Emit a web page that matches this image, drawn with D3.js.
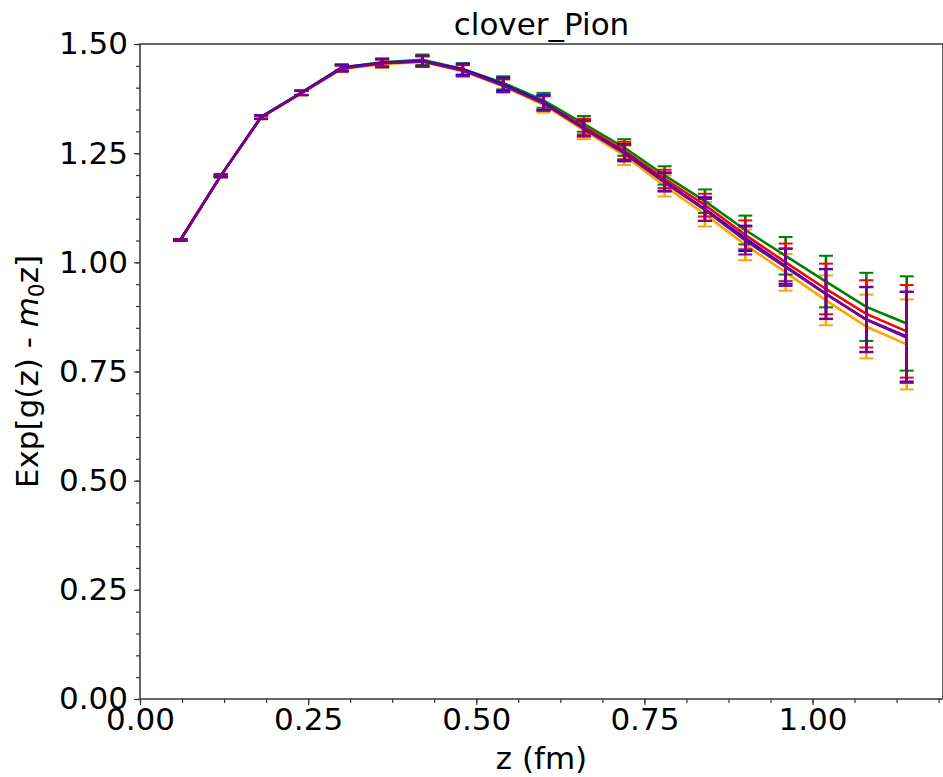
<!DOCTYPE html>
<html>
<head>
<meta charset="utf-8">
<script src="https://cdn.jsdelivr.net/npm/d3@7"></script>
<style>
  html, body { margin: 0; padding: 0; background: #fff; }
  svg { display: block; font-family: "DejaVu Sans", sans-serif; }
</style>
</head>
<body>
<svg id="chart" width="943" height="777"></svg>
<script>
// z positions (fm)
var zVals = [0.06, 0.12, 0.18, 0.24, 0.30, 0.36, 0.42, 0.48, 0.54, 0.60,
             0.66, 0.72, 0.78, 0.84, 0.90, 0.96, 1.02, 1.08, 1.14];

var orangeVals = [1.051, 1.198, 1.332, 1.387, 1.443, 1.454, 1.459, 1.438, 1.403, 1.361,
                  1.302, 1.245, 1.175, 1.110, 1.040, 0.977, 0.913, 0.853, 0.812];
var orangeErr  = [0.002, 0.003, 0.004, 0.005, 0.007, 0.009, 0.012, 0.013, 0.015, 0.018,
                  0.020, 0.022, 0.024, 0.028, 0.035, 0.042, 0.057, 0.073, 0.103];

var greenVals  = [1.051, 1.198, 1.333, 1.389, 1.446, 1.458, 1.464, 1.443, 1.411, 1.371,
                  1.317, 1.263, 1.199, 1.140, 1.074, 1.015, 0.956, 0.898, 0.860];
var greenErr   = [0.002, 0.003, 0.004, 0.005, 0.007, 0.009, 0.012, 0.013, 0.015, 0.017,
                  0.018, 0.019, 0.021, 0.027, 0.033, 0.043, 0.059, 0.078, 0.108];

var redVals    = [1.051, 1.198, 1.332, 1.388, 1.444, 1.456, 1.461, 1.439, 1.406, 1.365,
                  1.311, 1.256, 1.191, 1.131, 1.063, 1.000, 0.939, 0.882, 0.842];
var redErr     = [0.002, 0.003, 0.004, 0.005, 0.007, 0.009, 0.012, 0.013, 0.015, 0.017,
                  0.018, 0.020, 0.021, 0.026, 0.033, 0.043, 0.058, 0.077, 0.106];

var blueVals   = [1.051, 1.198, 1.333, 1.388, 1.446, 1.457, 1.461, 1.442, 1.408, 1.366,
                  1.307, 1.252, 1.185, 1.122, 1.055, 0.991, 0.928, 0.869, 0.830];
var blueErr    = [0.002, 0.003, 0.004, 0.005, 0.007, 0.009, 0.012, 0.013, 0.015, 0.017,
                  0.018, 0.019, 0.021, 0.027, 0.029, 0.040, 0.057, 0.074, 0.103];

var purpleVals = [1.051, 1.198, 1.332, 1.388, 1.444, 1.456, 1.460, 1.440, 1.405, 1.364,
                  1.306, 1.250, 1.183, 1.120, 1.050, 0.989, 0.927, 0.869, 0.828];
var purpleErr  = [0.002, 0.003, 0.004, 0.005, 0.007, 0.009, 0.012, 0.013, 0.015, 0.017,
                  0.018, 0.019, 0.021, 0.025, 0.032, 0.043, 0.057, 0.075, 0.104];

var yTicks = [0, 0.25, 0.5, 0.75, 1.0, 1.25, 1.5];
var xTicks = [0, 0.25, 0.5, 0.75, 1.0];

(function () {
    var series = [
        { color: 'orange', vals: orangeVals, err: orangeErr },
        { color: 'green',  vals: greenVals,  err: greenErr },
        { color: 'red',    vals: redVals,    err: redErr },
        { color: 'blue',   vals: blueVals,   err: blueErr },
        { color: 'purple', vals: purpleVals, err: purpleErr }
    ];

    var pl = 140, pr = 943, pt = 44, pb = 699;
    var fontSize = 31;

    var svg = d3.select('#chart');

    var x = d3.scaleLinear().domain([0, 1.194]).range([pl, pr]);
    var y = d3.scaleLinear().domain([0, 1.5]).range([pb, pt]);

    // minor tick positions
    var xMinor = d3.range(0, 1.194, 0.0625);
    var yMinor = d3.range(0, 1.5001, 0.05);

    // minor ticks
    svg.append('g')
        .attr('transform', 'translate(0,' + pb + ')')
        .call(d3.axisBottom(x).tickValues(xMinor).tickSize(4).tickFormat(''))
        .call(function (g) { g.select('.domain').remove(); })
        .selectAll('line').attr('stroke', '#333').attr('stroke-width', 1.2);

    svg.append('g')
        .attr('transform', 'translate(' + pl + ',0)')
        .call(d3.axisLeft(y).tickValues(yMinor).tickSize(4).tickFormat(''))
        .call(function (g) { g.select('.domain').remove(); })
        .selectAll('line').attr('stroke', '#333').attr('stroke-width', 1.2);

    // major ticks + labels
    var xAxis = svg.append('g')
        .attr('transform', 'translate(0,' + pb + ')')
        .call(d3.axisBottom(x).tickValues(xTicks).tickSize(6).tickPadding(3).tickFormat(d3.format('.2f')));
    xAxis.select('.domain').remove();
    xAxis.selectAll('line').attr('stroke', '#333').attr('stroke-width', 1.2);
    xAxis.selectAll('text')
        .attr('fill', '#000')
        .style('font-size', fontSize + 'px')
        .style('font-family', '"DejaVu Sans", sans-serif');

    var yAxis = svg.append('g')
        .attr('transform', 'translate(' + pl + ',0)')
        .call(d3.axisLeft(y).tickValues(yTicks).tickSize(6).tickPadding(6).tickFormat(d3.format('.2f')));
    yAxis.select('.domain').remove();
    yAxis.selectAll('line').attr('stroke', '#333').attr('stroke-width', 1.2);
    yAxis.selectAll('text')
        .attr('fill', '#000')
        .style('font-size', fontSize + 'px')
        .style('font-family', '"DejaVu Sans", sans-serif');

    // data: line then error bars, one series at a time
    var line = d3.line()
        .x(function (d) { return x(d.z); })
        .y(function (d) { return y(d.v); });

    series.forEach(function (s) {
        var pts = zVals.map(function (z, i) { return { z: z, v: s.vals[i], e: s.err[i] }; });
        var g = svg.append('g');

        g.append('path')
            .datum(pts)
            .attr('fill', 'none')
            .attr('stroke', s.color)
            .attr('stroke-width', 2.6)
            .attr('d', line);

        var bars = g.selectAll('.eb').data(pts).enter().append('g');
        bars.append('line')
            .attr('x1', function (d) { return x(d.z); })
            .attr('x2', function (d) { return x(d.z); })
            .attr('y1', function (d) { return y(d.v - d.e); })
            .attr('y2', function (d) { return y(d.v + d.e); })
            .attr('stroke', s.color)
            .attr('stroke-width', 2.6);
        [-1, 1].forEach(function (sign) {
            bars.append('line')
                .attr('x1', function (d) { return x(d.z) - 7; })
                .attr('x2', function (d) { return x(d.z) + 7; })
                .attr('y1', function (d) { return y(d.v + sign * d.e); })
                .attr('y2', function (d) { return y(d.v + sign * d.e); })
                .attr('stroke', s.color)
                .attr('stroke-width', 2);
        });
    });

    // frame
    svg.append('rect')
        .attr('x', pl).attr('y', pt)
        .attr('width', pr - pl).attr('height', pb - pt)
        .attr('fill', 'none')
        .attr('stroke', '#333')
        .attr('stroke-width', 1.5);

    // title
    svg.append('text')
        .attr('x', (pl + pr) / 2).attr('y', 35)
        .attr('text-anchor', 'middle')
        .style('font-size', fontSize + 'px')
        .text('clover_Pion');

    // x label
    svg.append('text')
        .attr('x', (pl + pr) / 2).attr('y', 769)
        .attr('text-anchor', 'middle')
        .style('font-size', fontSize + 'px')
        .text('z (fm)');

    // y label
    var yl = svg.append('text')
        .attr('transform', 'translate(38,' + ((pt + pb) / 2) + ') rotate(-90)')
        .attr('text-anchor', 'middle')
        .style('font-size', fontSize + 'px');
    yl.append('tspan').text('Exp[g(z) - ');
    yl.append('tspan').style('font-style', 'italic').text('m');
    yl.append('tspan').attr('dy', 6).style('font-size', (fontSize * 0.7) + 'px').text('0');
    yl.append('tspan').attr('dy', -6).text('z]');
})();
</script>
</body>
</html>
